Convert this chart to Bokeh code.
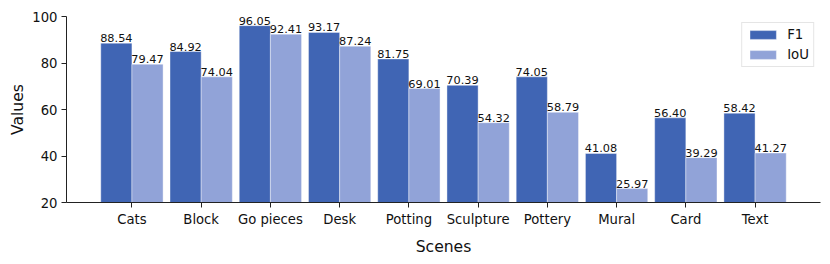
from bokeh.plotting import figure
from bokeh.models import FactorRange, Range1d, ColumnDataSource, Legend, LegendItem, FixedTicker
from bokeh.transform import dodge
from bokeh.core.properties import value
from bokeh.embed import file_html
from bokeh.resources import INLINE

scenes = ["Cats", "Block", "Go pieces", "Desk", "Potting", "Sculpture", "Pottery", "Mural", "Card", "Text"]
f1 = [88.54, 84.92, 96.05, 93.17, 81.75, 70.39, 74.05, 41.08, 56.40, 58.42]
iou = [79.47, 74.04, 92.41, 87.24, 69.01, 54.32, 58.79, 25.97, 39.29, 41.27]
y_ticks = [20, 40, 60, 80, 100]

F1_COLOR = "#4065b4"
IOU_COLOR = "#91a3d8"
FONT = "DejaVu Sans"

src = ColumnDataSource(dict(
    scene=scenes, f1=f1, iou=iou,
    f1_lbl=[f"{v:.2f}" for v in f1],
    iou_lbl=[f"{v:.2f}" for v in iou],
))

p = figure(
    width=822, height=260,
    x_range=FactorRange(factors=scenes, range_padding=0.445, range_padding_units="absolute"),
    y_range=Range1d(20, 100),
    output_backend="svg", toolbar_location=None,
    min_border_left=66, min_border_right=2, min_border_top=16, min_border_bottom=58,
)
p.outline_line_color = None
p.xgrid.grid_line_color = None
p.ygrid.grid_line_color = None
p.background_fill_color = "white"
p.border_fill_color = "white"

bw = 0.45
r1 = p.vbar(x=dodge("scene", -bw / 2, range=p.x_range), top="f1", bottom=20, width=bw,
            source=src, fill_color=F1_COLOR, line_color="white", line_width=0.4)
r2 = p.vbar(x=dodge("scene", bw / 2, range=p.x_range), top="iou", bottom=20, width=bw,
            source=src, fill_color=IOU_COLOR, line_color="white", line_width=0.4)

for col, lbl, off in (("f1", "f1_lbl", -bw / 2), ("iou", "iou_lbl", bw / 2)):
    p.text(x=dodge("scene", off, range=p.x_range), y=col, text=lbl, source=src,
           text_align="center", text_baseline="bottom", y_offset=-1,
           text_font=value(FONT), text_font_size="11.3px", text_color="#111111")

# axes
p.yaxis.ticker = FixedTicker(ticks=y_ticks)
for ax in (p.xaxis[0], p.yaxis[0]):
    ax.axis_line_color = "#222222"
    ax.axis_line_width = 1
    ax.major_tick_line_color = "#222222"
    ax.major_tick_out = 5
    ax.major_tick_in = 0
    ax.minor_tick_line_color = None
    ax.major_label_text_font = FONT
    ax.major_label_text_font_size = "13.2px"
    ax.major_label_text_color = "#111111"
    ax.axis_label_text_font = FONT
    ax.axis_label_text_font_size = "15.6px"
    ax.axis_label_text_font_style = "normal"
    ax.axis_label_text_color = "#111111"
p.xaxis.axis_label = "Scenes"
p.yaxis.axis_label = "Values"
p.xaxis.major_label_standoff = 4
p.yaxis.major_label_standoff = 4
p.xaxis.axis_label_standoff = 8
p.yaxis.axis_label_standoff = 2

legend = Legend(
    items=[LegendItem(label="F1", renderers=[r1]), LegendItem(label="IoU", renderers=[r2])],
    location="top_right", margin=6, padding=4, spacing=5,
    glyph_width=33, glyph_height=11, label_height=15, label_standoff=8,
    label_text_font=FONT, label_text_font_size="13.3px", label_text_color="#111111",
    border_line_color="#cccccc", border_line_width=1,
    background_fill_color="white", background_fill_alpha=0.8,
)
p.add_layout(legend)

open("out.html", "w").write(file_html(p, INLINE))
